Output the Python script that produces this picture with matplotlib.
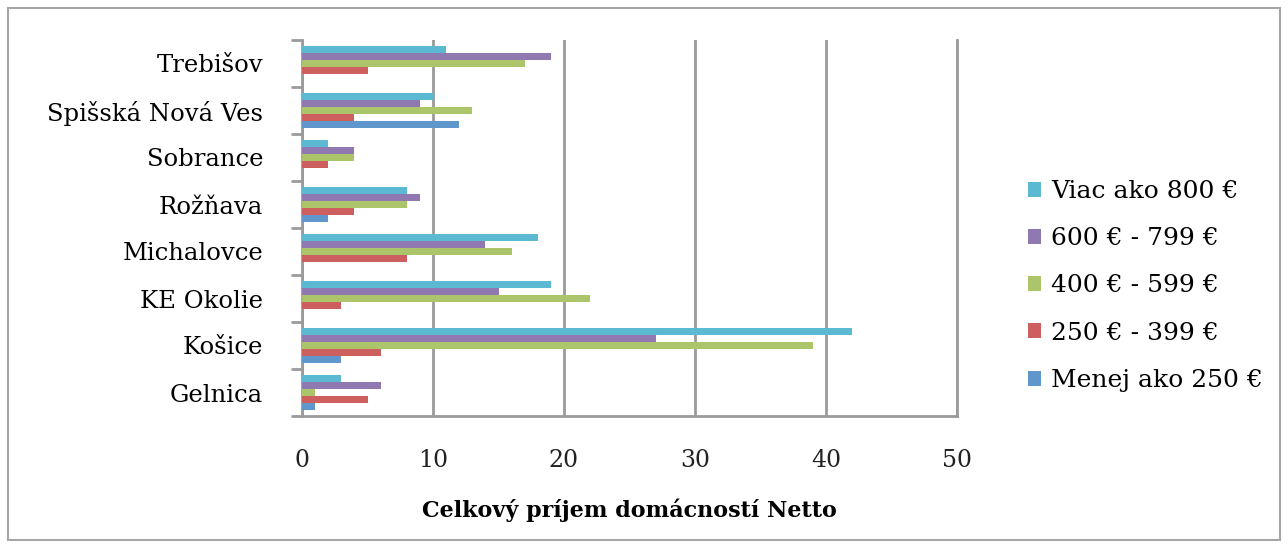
#!/usr/bin/env python3
"""Household net income by district - horizontal grouped bars."""

import numpy as np
import matplotlib.pyplot as plt
from matplotlib.patches import Rectangle

# =====================================
# Data
# =====================================
districts = ["Gelnica", "Košice", "KE Okolie", "Michalovce",
             "Rožňava", "Sobrance", "Spišská Nová Ves", "Trebišov"]

menej_250 = [1, 3, 0, 0, 2, 0, 12, 0]
r250_399 = [5, 6, 3, 8, 4, 2, 4, 5]
r400_599 = [1, 39, 22, 16, 8, 4, 13, 17]
r600_799 = [6, 27, 15, 14, 9, 4, 9, 19]
viac_800 = [3, 42, 19, 18, 8, 2, 10, 11]

series_labels = ["Menej ako 250 €", "250 € - 399 €", "400 € - 599 €",
                 "600 € - 799 €", "Viac ako 800 €"]
colors = ["#5f97cd", "#cd605e", "#acc46a", "#9079b0", "#5bb9d1"]

x_ticks = [0, 10, 20, 30, 40, 50]
x_label = "Celkový príjem domácností Netto"

# =====================================
# Plot
# =====================================
plt.rcParams['font.family'] = ['DejaVu Serif']

fig = plt.figure(figsize=(12.88, 5.47), dpi=100)
ax = fig.add_axes([302 / 1288, 1 - 416 / 547, 655 / 1288, 376 / 547])

# outer border
fig.patches.append(Rectangle((8 / 1288, 7 / 547), 1272 / 1288, 532 / 547,
                             transform=fig.transFigure, fill=False,
                             edgecolor="#a6a6a6", linewidth=1.5))

all_series = [menej_250, r250_399, r400_599, r600_799, viac_800]
y = np.arange(len(districts))
h = 0.15
for i, (vals, lab, col) in enumerate(zip(all_series, series_labels, colors)):
    ax.barh(y + (i - 2) * h, vals, height=h, color=col, label=lab, zorder=3)

ax.set_xlim(0, 50)
ax.set_ylim(-0.5, len(districts) - 0.5)
ax.set_xticks(x_ticks)
ax.set_xticklabels([str(t) for t in x_ticks], fontsize=17)
ax.tick_params(axis="x", length=0, pad=24, colors="#222222")
ax.grid(axis="x", color="#9a9a9a", linewidth=2, zorder=0)
ax.axvline(50, color="#9a9a9a", linewidth=2, zorder=0, clip_on=False)

# category labels between boundary ticks
ax.set_yticks(np.arange(-0.5, len(districts), 1.0))
ax.set_yticklabels([])
ax.set_yticks(y, minor=True)
ax.set_yticklabels(districts, minor=True, fontsize=17.5)
ax.tick_params(axis="y", which="major", length=8, width=2, color="#9a9a9a")
ax.tick_params(axis="y", which="minor", length=0, pad=28)

for s in ["top", "right"]:
    ax.spines[s].set_visible(False)
for s in ["left", "bottom"]:
    ax.spines[s].set_color("#9a9a9a")
    ax.spines[s].set_linewidth(2)

ax.set_xlabel(x_label, fontsize=16, fontweight="bold", labelpad=19)

handles, labels = ax.get_legend_handles_labels()
ax.legend(handles[::-1], labels[::-1], loc="center left",
          bbox_to_anchor=(1005 / 1288, 1 - 286 / 547),
          bbox_transform=fig.transFigure, frameon=False, fontsize=18,
          handlelength=0.55, handleheight=0.55, handletextpad=0.4,
          labelspacing=0.97)

fig.savefig("out.png", dpi=100)
